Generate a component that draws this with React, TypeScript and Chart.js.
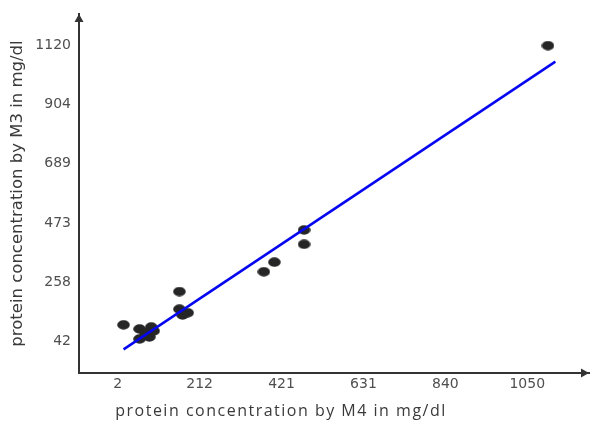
import React, { useEffect, useRef } from 'react';
import { Chart, registerables } from 'chart.js';

Chart.register(...registerables);

// Axis ticks (evenly spaced, labels rounded as in the source)
const xTicks = [2, 211.6, 421.2, 630.8, 840.4, 1050];
const xTickLabels = ['2', '212', '421', '631', '840', '1050'];
const yTicks = [42, 257.6, 473.2, 688.8, 904.4, 1120];
const yTickLabels = ['42', '258', '473', '689', '904', '1120'];

// Samples: M4 (x) vs M3 (y), mg/dl
const m4Values = [17, 58, 88, 73, 58, 83, 94, 160, 160, 181, 168, 376, 403, 479, 479, 1103];
const m3Values = [103, 88, 95, 74, 52, 59, 81, 224, 160, 147, 139, 296, 331, 448, 396, 1118];

// Fitted line end points
const fitX = [17, 1122];
const fitY = [14, 1060];

const xTitle = 'protein concentration by M4 in mg/dl';
const yTitle = 'protein concentration by M3 in mg/dl';

const X_MIN = -97;
const X_MAX = 1208;
const Y_MIN = -72;
const Y_MAX = 1233;

export default function App() {
  const ref = useRef<HTMLCanvasElement | null>(null);

  useEffect(() => {
    if (!ref.current) return;

    const dot = document.createElement('canvas');
    dot.width = 13;
    dot.height = 10;
    const g = dot.getContext('2d')!;
    g.fillStyle = '#262626';
    g.beginPath();
    g.ellipse(6.5, 5, 6.3, 4.7, 0, 0, Math.PI * 2);
    g.fill();

    const decor = {
      id: 'decor',
      afterDraw(chart: any) {
        const { ctx, chartArea } = chart;
        const { left, top, right, bottom } = chartArea;
        ctx.save();
        ctx.fillStyle = '#333333';
        ctx.beginPath();
        ctx.moveTo(left, top);
        ctx.lineTo(left - 4.5, top + 8);
        ctx.lineTo(left + 4.5, top + 8);
        ctx.closePath();
        ctx.fill();
        ctx.beginPath();
        ctx.moveTo(right, bottom);
        ctx.lineTo(right - 8, bottom - 4.5);
        ctx.lineTo(right - 8, bottom + 4.5);
        ctx.closePath();
        ctx.fill();
        ctx.font = '16px "Open Sans"';
        try {
          (ctx as any).letterSpacing = '1.5px';
        } catch (e) {}
        ctx.fillStyle = '#3a3a3a';
        ctx.textAlign = 'center';
        ctx.textBaseline = 'middle';
        ctx.fillText(xTitle, 281, 411);
        ctx.restore();
      },
    };

    const chart = new Chart(ref.current, {
      type: 'scatter',
      data: {
        datasets: [
          {
            type: 'line',
            data: fitX.map((x, i) => ({ x, y: fitY[i] })),
            borderColor: '#0606f0',
            borderWidth: 2.5,
            pointRadius: 0,
            fill: false,
          } as any,
          {
            data: m4Values.map((x, i) => ({ x, y: m3Values[i] })),
            pointStyle: dot,
            pointRadius: 6,
            backgroundColor: '#262626',
            borderWidth: 0,
          },
        ],
      },
      options: {
        animation: false,
        responsive: false,
        layout: { padding: { top: 14, right: 3, left: 0, bottom: 0 } },
        plugins: { legend: { display: false }, tooltip: { enabled: false } },
        scales: {
          x: {
            type: 'linear',
            min: X_MIN,
            max: X_MAX,
            grid: { display: false, drawTicks: false },
            border: { display: true, color: '#333333', width: 2 },
            afterBuildTicks: (s: any) => {
              s.ticks = xTicks.map((v) => ({ value: v }));
            },
            afterFit: (s: any) => {
              s.height = 48;
              s.paddingLeft = 0;
              s.paddingRight = 0;
            },
            ticks: {
              padding: 3,
              maxRotation: 0,
              autoSkip: false,
              color: '#4f4f4f',
              font: { family: 'DejaVu Sans', size: 14 },
              callback: (_v: any, i: number) => xTickLabels[i],
            },
          },
          y: {
            type: 'linear',
            min: Y_MIN,
            max: Y_MAX,
            grid: { display: false, drawTicks: false },
            border: { display: true, color: '#333333', width: 2 },
            afterBuildTicks: (s: any) => {
              s.ticks = yTicks.map((v) => ({ value: v }));
            },
            afterFit: (s: any) => {
              s.width = 79;
              s.paddingTop = 0;
              s.paddingBottom = 0;
            },
            title: {
              display: true,
              text: yTitle,
              color: '#3a3a3a',
              font: { family: 'DejaVu Sans', size: 16.5 },
              padding: { top: 8, bottom: 0 },
            },
            ticks: {
              padding: 8,
              autoSkip: false,
              color: '#4f4f4f',
              font: { family: 'DejaVu Sans', size: 14 },
              callback: (_v: any, i: number) => yTickLabels[i],
            },
          },
        },
      },
      plugins: [decor],
    });

    return () => chart.destroy();
  }, []);

  return (
    <div style={{ position: 'fixed', left: 0, top: 0, width: 595, height: 421, background: '#fff' }}>
      <canvas ref={ref} width={595} height={421} />
    </div>
  );
}
